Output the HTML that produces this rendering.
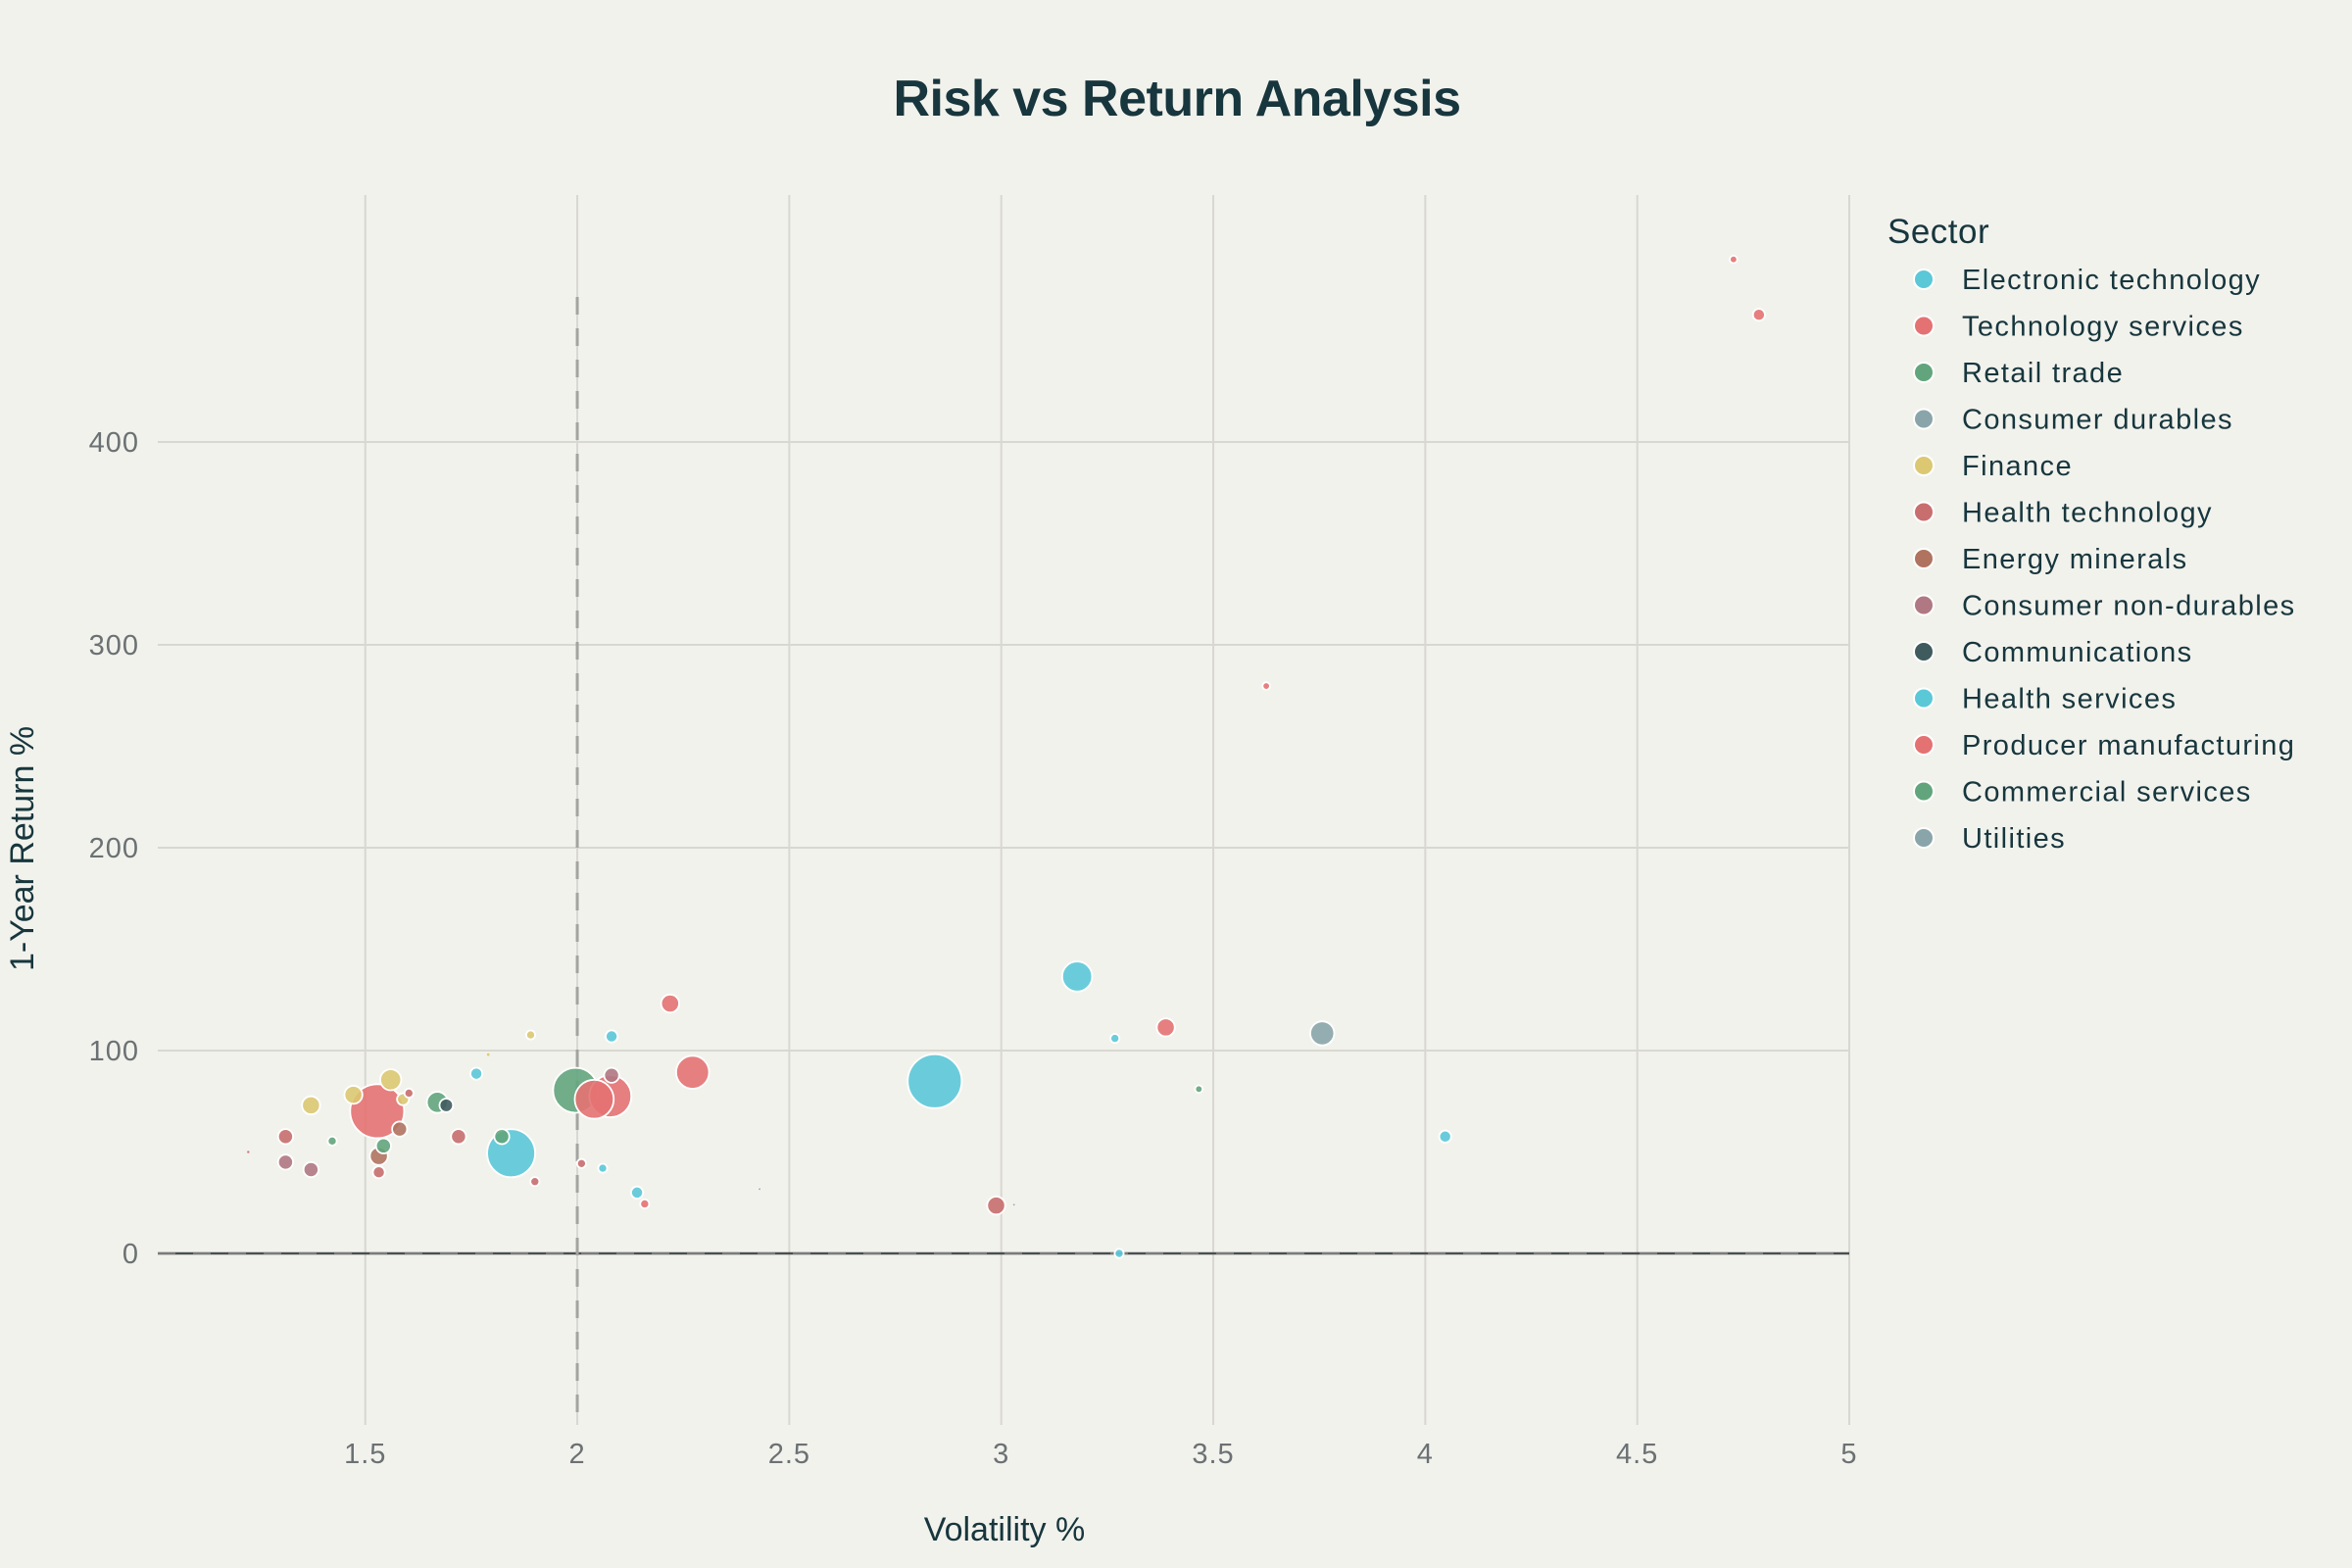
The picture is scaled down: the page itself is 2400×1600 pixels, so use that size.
<!DOCTYPE html>
<html><head><meta charset="utf-8"><style>
html,body{margin:0;padding:0;background:#f2f2ed;}
svg{display:block;font-family:"Liberation Sans",sans-serif;}
</style></head><body>
<svg id="chart" width="2400" height="1600" viewBox="0 0 2400 1600">
<rect width="2400" height="1600" fill="#f2f2ed"/>
<text x="1201" y="118" text-anchor="middle" font-size="52" font-weight="bold" letter-spacing="-0.5" fill="#17363d">Risk vs Return Analysis</text>
<g id="grid"></g>
<g id="marks"></g>
<g id="axes"></g>
<text x="1025" y="1572" text-anchor="middle" font-size="34" fill="#17363d">Volatility %</text>
<text transform="translate(34,866) rotate(-90)" text-anchor="middle" font-size="34" fill="#17363d">1-Year Return %</text>
<g id="legend"></g>
</svg>
<script>
const sectors = ["Electronic technology","Technology services","Retail trade","Consumer durables","Finance","Health technology","Energy minerals","Consumer non-durables","Communications","Health services","Producer manufacturing","Commercial services","Utilities"];
const sectorColors = ["#5bc8d8","#e47272","#62a57c","#8aa5aa","#dcc872","#c86e6e","#b07360","#b07882","#3f5b5e","#5bc8d8","#e47272","#62a57c","#8aa5aa"];
const xTicks = [1.5,2,2.5,3,3.5,4,4.5,5];
const yTicks = [0,100,200,300,400];
const pointSector = [0,0,0,0,0,0,0,0,0,0, 1,1,1,1,1,1,1,1,1,1, 2,2,2,2,2,11, 3, 4,4,4,4,4,4, 5,5,5,5,5,5,5,5, 6,6, 7,7,7, 8, 12,12];
const volatility = [2.843,3.179,1.844,3.268,4.047,3.278,2.081,1.762,2.141,2.060, 4.727,4.787,3.625,3.388,2.272,2.219,1.528,2.040,2.078,2.159, 1.996,1.670,1.822,1.543,1.422,3.466, 3.757, 1.560,1.472,1.372,1.589,1.890,1.790, 1.312,1.720,2.988,1.532,1.900,2.010,1.603,1.224, 1.532,1.581, 1.312,1.372,2.081, 1.691, 2.430,3.030];
const returns1y = [84.9,136.5,49.4,106,57.6,0,107,88.6,30,42, 490,462.7,279.7,111.4,89.3,123.2,70.1,76,77.5,24.4, 80.4,74.5,57.6,53,55.4,81, 108.5, 85.6,78.2,73,76,107.7,98, 57.6,57.6,23.6,40,35.4,44.3,79,50, 48,61.3, 45,41.3,87.8, 73, 31.7,24];
const markerSize = [18,10,16,3,4,3,4,4,4,3, 2.5,4,2.5,6,11,6,18,13,14,3, 15,7,5,5,3,2.5, 8, 7,6,6,4,3,1.2, 5,5,6,4,3,3,3,1, 6,5, 5,5,5, 4.5, 0.8,0.8];

const L=161,R=1887,T=199,B=1454;
const xMin=1.0106, xMax=5.0, yZero=1279, yPer=2.07;
function sx(v){return L+(v-xMin)/(xMax-xMin)*(R-L);}
function sy(v){return yZero-v*yPer;}
const NS="http://www.w3.org/2000/svg";
function mk(tag,attrs,parent){const e=document.createElementNS(NS,tag);for(const k in attrs)e.setAttribute(k,attrs[k]);parent.appendChild(e);return e;}
const grid=document.getElementById('grid'),marks=document.getElementById('marks'),axes=document.getElementById('axes'),legend=document.getElementById('legend');
xTicks.forEach(t=>{
  const ln=mk('line',{x1:sx(t),x2:sx(t),y1:T,y2:B,stroke:'#d8d7d1','stroke-width':2},grid);
  
  
  const tx=mk('text',{x:sx(t),y:1493,'text-anchor':'middle','font-size':29,'letter-spacing':1,fill:'#6b7173'},axes);
  tx.textContent=String(t);
  
  
});
yTicks.forEach(t=>{
  if(t!==0){
    const ln=mk('line',{x1:L,x2:R,y1:sy(t),y2:sy(t),stroke:'#d8d7d1','stroke-width':2},grid);
    
    
  }
  const tx=mk('text',{x:142,y:sy(t)+10,'text-anchor':'end','font-size':29,'letter-spacing':1,fill:'#6b7173'},axes);
  tx.textContent=String(t);
  
  
});
const zl=mk('line',{x1:L,x2:R,y1:sy(0),y2:sy(0),stroke:'#4a4f50','stroke-width':2.5},grid);


const zd=mk('line',{x1:L,x2:R,y1:sy(0),y2:sy(0),stroke:'#9a9a98','stroke-width':3,'stroke-dasharray':'18,18','opacity':0.6},grid);


const vd=mk('line',{x1:sx(2),x2:sx(2),y1:303,y2:B,stroke:'#a3a3a0','stroke-width':3,'stroke-dasharray':'18,14'},grid);


const order=volatility.map((v,i)=>i).sort((a,b)=>markerSize[b]-markerSize[a]);
order.forEach(i=>{
  const c=mk('circle',{cx:sx(volatility[i]),cy:sy(returns1y[i]),r:markerSize[i]*1.53,fill:sectorColors[pointSector[i]],'fill-opacity':0.9,stroke:'#ffffff','stroke-width':markerSize[i]>1.5?1.8:0.5},marks);
  
  
});
const lt=mk('text',{x:1926,y:248,'font-size':35,'letter-spacing':0.5,fill:'#17363d'},legend);
lt.textContent='Sector';


sectors.forEach((s,i)=>{
  const y=285+i*47.5;
  const g=mk('g',{},legend);
  
  
  mk('circle',{cx:1963,cy:y,r:10,fill:sectorColors[i],stroke:'#ffffff','stroke-width':2},g);
  const t=mk('text',{x:2002,y:y+10,'font-size':29,'letter-spacing':1.4,fill:'#17363d'},g);
  t.textContent=s;
});
</script>
</body></html>
